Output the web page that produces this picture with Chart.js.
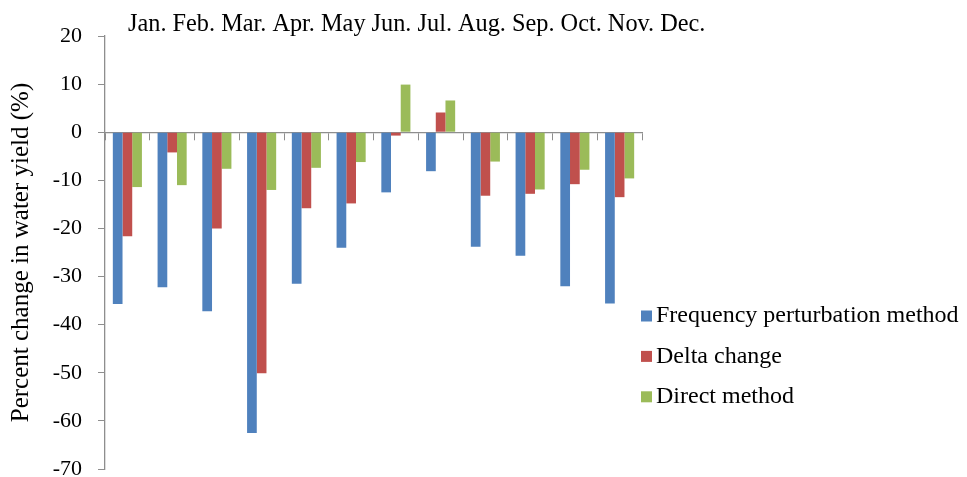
<!DOCTYPE html>
<html>
<head>
<meta charset="utf-8">
<script src="https://cdn.jsdelivr.net/npm/chart.js@4.4.0/dist/chart.umd.min.js"></script>
<style>
  html, body { margin: 0; padding: 0; background: #fff; }
  #wrap { width: 967px; height: 477px; }
</style>
</head>
<body>
<div id="wrap"><canvas id="yieldChart" width="967" height="477"></canvas></div>
<script>
    const months = ['Jan.', 'Feb.', 'Mar.', 'Apr.', 'May', 'Jun.', 'Jul.', 'Aug.', 'Sep.', 'Oct.', 'Nov.', 'Dec.'];
    const freqPerturbation = [-35.7, -32.2, -37.2, -62.5, -31.5, -24.0, -12.5, -8.1, -23.8, -25.7, -32.0, -35.6];
    const deltaChange = [-21.6, -4.2, -20.0, -50.1, -15.8, -14.8, -0.7, 4.1, -13.2, -12.8, -10.8, -13.5];
    const directMethod = [-11.4, -11.0, -7.6, -12.0, -7.4, -6.2, 9.9, 6.6, -6.1, -11.9, -7.8, -9.6];
    const yTicks = [20, 10, 0, -10, -20, -30, -40, -50, -60, -70];

    const serif = "'Liberation Serif', 'Times New Roman', serif";
    const axisGrey = '#8e8e8e';

    // month names written as one line of text above the plot, legend to the right
    const extraText = {
        id: 'extraText',
        afterDraw(chart) {
            const ctx = chart.ctx;
            const area = chart.chartArea;
            ctx.save();
            ctx.fillStyle = '#000';
            ctx.font = '24.3px ' + serif;
            ctx.textBaseline = 'alphabetic';
            ctx.textAlign = 'left';
            ctx.fillText(months.join(' '), area.left + 23, 31);

            // legend
            ctx.font = '24px ' + serif;
            ctx.textBaseline = 'middle';
            chart.data.datasets.forEach((ds, i) => {
                const y = 316 + i * 40.4;
                ctx.fillStyle = ds.backgroundColor;
                ctx.fillRect(area.right - 1, y - 5.5, 11, 11);
                ctx.fillStyle = '#000';
                ctx.fillText(ds.label, area.right + 14, y);
            });
            ctx.restore();
        }
    };

    const ctx = document.getElementById('yieldChart').getContext('2d');
    const yieldChart = new Chart(ctx, {
        type: 'bar',
        data: {
            labels: months,
            datasets: [{
                label: 'Frequency perturbation method',
                data: freqPerturbation,
                backgroundColor: '#4F81BD'
            }, {
                label: 'Delta change',
                data: deltaChange,
                backgroundColor: '#C0504D'
            }, {
                label: 'Direct method',
                data: directMethod,
                backgroundColor: '#9BBB59'
            }]
        },
        options: {
            responsive: false,
            animation: false,
            layout: {
                padding: { top: 36, right: 325, bottom: 8, left: 0 }
            },
            datasets: {
                bar: {
                    categoryPercentage: 0.65,
                    barPercentage: 1.0
                }
            },
            plugins: {
                legend: { display: false },
                tooltip: { enabled: false }
            },
            scales: {
                x: {
                    position: { y: 0 },
                    offset: true,
                    afterFit(scale) {
                        scale.height = 0;
                    },
                    ticks: { display: false },
                    grid: {
                        offset: true,
                        drawOnChartArea: false,
                        drawTicks: true,
                        tickLength: 7,
                        color: axisGrey
                    },
                    border: { color: axisGrey, width: 1.3 }
                },
                y: {
                    min: -70,
                    max: 20,
                    afterBuildTicks(scale) {
                        scale.ticks = yTicks.map(v => ({ value: v }));
                    },
                    afterFit(scale) {
                        scale.width = 105;
                        // let the -70 label run off the bottom edge like the original
                        scale.paddingTop = 0;
                        scale.paddingBottom = 0;
                    },
                    ticks: {
                        padding: 16,
                        color: '#000',
                        font: { family: serif, size: 22 }
                    },
                    grid: {
                        drawOnChartArea: false,
                        drawTicks: true,
                        tickLength: 7,
                        color: axisGrey
                    },
                    border: { color: axisGrey, width: 1.3 },
                    title: {
                        display: true,
                        text: 'Percent change in water yield (%)',
                        color: '#000',
                        font: { family: serif, size: 25 },
                        padding: { top: 6, bottom: 0 }
                    }
                }
            }
        },
        plugins: [extraText]
    });
</script>
</body>
</html>
